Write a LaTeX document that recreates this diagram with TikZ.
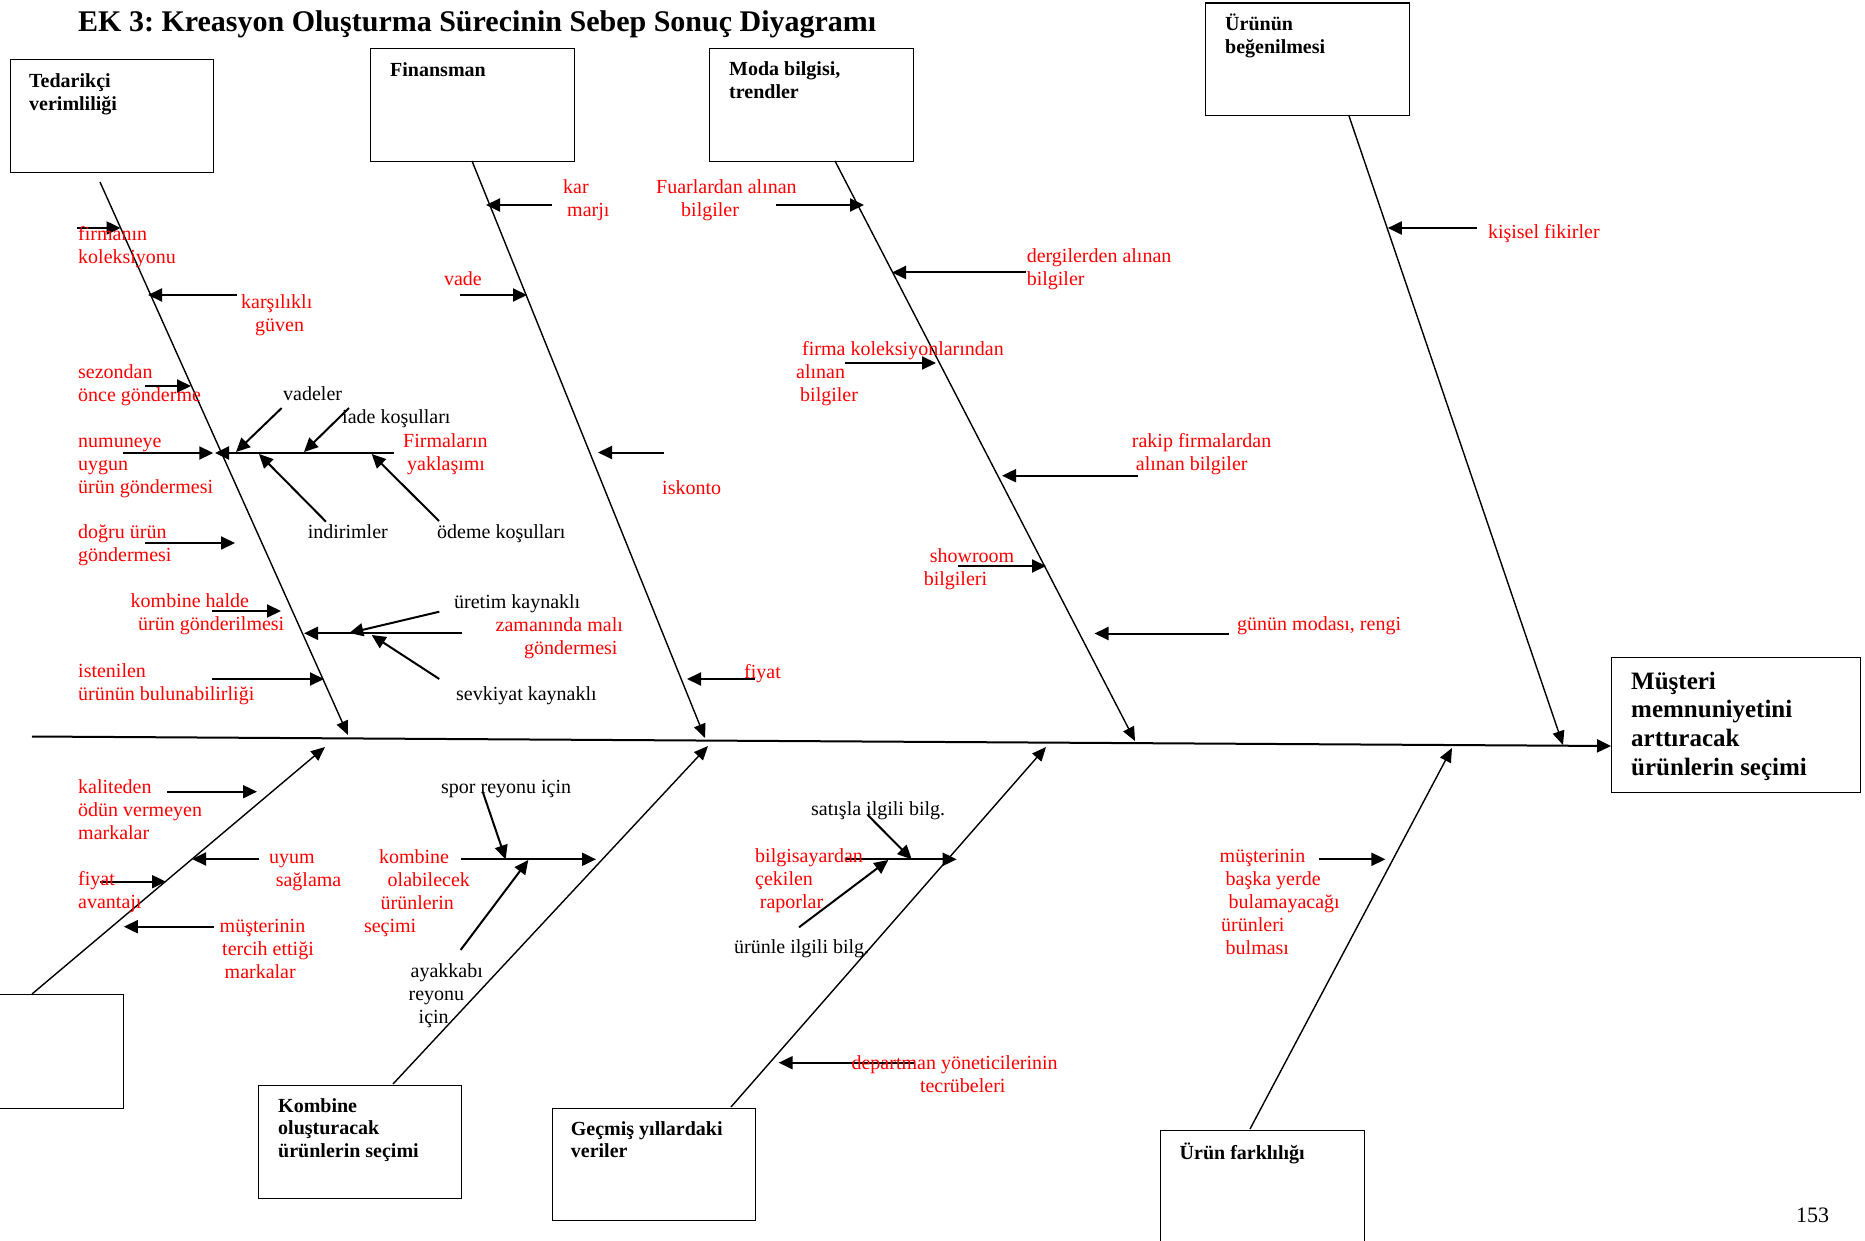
\documentclass[tikz,border=0pt]{standalone}
\usepackage{fontspec}
\setmainfont{Liberation Serif}
\usetikzlibrary{arrows.meta}
\frenchspacing

% multi-line label whose anchor is the baseline of its first line
\newcommand\ml[1]{\vtop{\halign{##\hfil\cr#1\crcr}}}
% small cause arrow between two named coordinates
\newcommand\twig[3]{\coordinate (#1a) at (#2); \coordinate (#1b) at (#3); \draw[twigline] (#1a) -- (#1b);}
% main cause bone between two named coordinates
\newcommand\bone[3]{\coordinate (#1s) at (#2); \coordinate (#1e) at (#3); \draw[boneline] (#1s) -- (#1e);}

\tikzset{
  frame/.style={draw, line width=1.4pt, inner sep=0pt, anchor=north west},
  boneline/.style={line width=1.4pt, -{Triangle[length=14pt,width=12pt]}},
  spineline/.style={line width=2pt, -{Triangle[length=14pt,width=13pt]}},
  twigline/.style={line width=2pt, -{Triangle[length=14pt,width=13pt]}},
  txt/.style={inner sep=0pt, anchor=base west, font=\fontsize{20}{23}\selectfont},
  redtxt/.style={txt, text=red},
  head/.style={inner sep=0pt, anchor=base west, font=\fontsize{20}{22.8}\selectfont\bfseries},
}

\begin{document}
\begin{tikzpicture}[x=1pt, y=-1pt]
\path[fill=white, use as bounding box] (0,0) rectangle (1865,1241);

% title
\node[inner sep=0pt, anchor=base west, font=\fontsize{30}{34}\selectfont\bfseries] (title) at (78,31.7)
  {EK 3: Kreasyon Oluşturma Sürecinin Sebep Sonuç Diyagramı};

% category boxes
\node[frame, minimum width=203pt, minimum height=113pt] (ted) at (10,59) {};
\node[frame, minimum width=204pt, minimum height=113pt] (fin) at (370,48) {};
\node[frame, minimum width=204pt, minimum height=113pt] (moda) at (709,48) {};
\node[frame, minimum width=204pt, minimum height=112.5pt] (begeni) at (1205,2.5) {};
\node[frame, minimum width=249pt, minimum height=135pt] (mus) at (1611,657) {};
\node[frame, minimum width=133pt, minimum height=114pt] (bos) at (-10,994) {};
\node[frame, minimum width=203pt, minimum height=113pt] (komb) at (258,1085) {};
\node[frame, minimum width=202.5pt, minimum height=112pt] (gecmis) at (552,1108) {};
\node[frame, minimum width=204pt, minimum height=140pt] (fark) at (1160,1130) {};

% box headings
\node[head] (h-ted) at (29,88) {\ml{Tedarikçi\cr verimliliği}};
\node[head] (h-fin) at (390,77) {Finansman};
\node[head] (h-moda) at (729,76) {\ml{Moda bilgisi,\cr trendler}};
\node[head] (h-begeni) at (1225,31) {\ml{Ürünün\cr beğenilmesi}};
\node[inner sep=0pt, anchor=base west, font=\fontsize{25}{28.7}\selectfont\bfseries] (h-mus) at (1631,689)
  {\ml{Müşteri\cr memnuniyetini\cr arttıracak\cr ürünlerin seçimi}};
\node[head] (h-komb) at (278,1112) {\ml{Kombine\cr oluşturacak\cr ürünlerin seçimi}};
\node[head] (h-gecmis) at (570.7,1135) {\ml{Geçmiş yıllardaki\cr veriler}};
\node[head] (h-fark) at (1179.5,1159) {Ürün farklılığı};

% spine
\coordinate (sp0) at (32,736.5);
\coordinate (sp1) at (1611,746);
\draw[spineline] (sp0) -- (sp1);

% bones
\bone{tb}{100,182}{348,735}
\bone{fb}{472,161}{705,738}
\bone{mb}{835,161}{1135,741}
\bone{ub}{1349,116}{1563,745}
\bone{bb}{32,994}{325,747}
\bone{kb}{393,1084}{708,746}
\bone{gb}{731,1107}{1046,747}
\bone{rb}{1250,1129}{1452,748}

% Tedarikçi verimliliği
\twig{t1}{77,228}{120.6,228}
\twig{t2}{236.5,295}{148,295}
\twig{t3}{145,386}{191,386}
\twig{t4}{122.6,453}{213.3,453}
\twig{t5}{394,453}{215,453}
\twig{t6}{281.7,408}{236,452}
\twig{t7}{349,408}{304,452}
\twig{t8}{326,521.7}{259,454}
\twig{t9}{439,521}{371.7,454}
\twig{t10}{145,543}{235,543}
\twig{t11}{212,611}{281,611}
\twig{t12}{461.7,633.3}{304,633.3}
\twig{t13}{439.3,611.7}{349.3,633}
\twig{t14}{439.3,679}{371.7,635}
\twig{t15}{212,679}{324,679}

\node[redtxt] (l-t1) at (78,240.7) {\ml{firmanın\cr koleksiyonu}};
\node[redtxt] (l-t2) at (241,308) {\ml{karşılıklı\cr\hspace*{14pt}güven}};
\node[redtxt] (l-t3) at (78,378) {\ml{sezondan\cr önce gönderme}};
\node[redtxt] (l-t4) at (78,447.7) {\ml{numuneye\cr uygun\cr ürün göndermesi}};
\node[redtxt] (l-t5) at (403,447.7) {\ml{Firmaların\cr\hspace*{4pt}yaklaşımı}};
\node[txt] (l-t6) at (283,400) {vadeler};
\node[txt] (l-t7) at (342,423) {iade koşulları};
\node[txt] (l-t8) at (307.6,538) {indirimler};
\node[txt] (l-t9) at (437,538) {ödeme koşulları};
\node[redtxt] (l-t10) at (78,538) {\ml{doğru ürün\cr göndermesi}};
\node[redtxt] (l-t11) at (130.5,607) {\ml{kombine halde\cr\hspace*{7.5pt}ürün gönderilmesi}};
\node[redtxt] (l-t12) at (495.5,631.7) {\ml{zamanında malı\cr\hspace*{28.5pt}göndermesi}};
\node[txt] (l-t13) at (454,608) {üretim kaynaklı};
\node[txt] (l-t14) at (456,700) {sevkiyat kaynaklı};
\node[redtxt] (l-t15) at (78,677.7) {\ml{istenilen\cr ürünün bulunabilirliği}};

% Finansman
\twig{f1}{552,205}{486,205}
\twig{f2}{460,295}{527,295}
\twig{f3}{664,452.5}{598,452.5}
\twig{f4}{755,679}{687,679}

\node[redtxt] (l-f1) at (563,194) {\ml{kar\cr\hspace*{4pt}marjı}};
\node[redtxt] (l-f2) at (443.8,285.7) {vade};
\node[redtxt] (l-f3) at (662,494) {iskonto};
\node[redtxt] (l-f4) at (744,678) {fiyat};

% Moda bilgisi, trendler
\twig{m1}{776,205}{864,205}
\twig{m2}{1025.6,272.5}{892,272.5}
\twig{m3}{844.5,363}{936,363}
\twig{m4}{1138,475.7}{1002,475.7}
\twig{m5}{957.8,566}{1046,566}
\twig{m6}{1228.7,633.5}{1094.5,633.5}

\node[redtxt] (l-m1) at (656,194) {\ml{Fuarlardan alınan\cr\hspace*{25pt}bilgiler}};
\node[redtxt] (l-m2) at (1026.6,263) {\ml{dergilerden alınan\cr bilgiler}};
\node[redtxt] (l-m3) at (796,355) {\ml{\hspace*{6pt}firma koleksiyonlarından\cr alınan\cr\hspace*{4pt}bilgiler}};
\node[redtxt] (l-m4) at (1131.7,447.7) {\ml{rakip firmalardan\cr\hspace*{4pt}alınan bilgiler}};
\node[redtxt] (l-m5) at (923.6,562.6) {\ml{\hspace*{6pt}showroom\cr bilgileri}};
\node[redtxt] (l-m6) at (1237,630) {günün modası, rengi};

% Ürünün beğenilmesi
\twig{u1}{1476.6,228}{1387.8,228}
\node[redtxt] (l-u1) at (1487.8,238.8) {kişisel fikirler};

% lower left bone
\twig{b1}{167,791.7}{257,791.7}
\twig{b2}{259,859}{192,859}
\twig{b3}{100,881.7}{166,881.7}
\twig{b4}{213.5,926.7}{123.8,926.7}

\node[redtxt] (l-b1) at (78,793.3) {\ml{kaliteden\cr ödün vermeyen\cr markalar}};
\node[redtxt] (l-b2) at (269,863.3) {\ml{uyum\cr\hspace*{6.6pt}sağlama}};
\node[redtxt] (l-b3) at (78,885.7) {\ml{fiyat\cr avantajı}};
\node[redtxt] (l-b4) at (219.5,932.3) {\ml{müşterinin\cr\hspace*{2.5pt}tercih ettiği\cr\hspace*{5pt}markalar}};

% Kombine oluşturacak ürünlerin seçimi
\twig{k1}{460.6,859.3}{596,859.3}
\twig{k2}{482.7,791.7}{505.7,859.3}
\twig{k3}{460.6,950}{528.3,860}

\node[redtxt] (l-k1) at (363.8,863.3) {\ml{\hspace*{15pt}kombine\cr\hspace*{23.7pt}olabilecek\cr\hspace*{16.6pt}ürünlerin\cr seçimi}};
\node[txt] (l-k2) at (441,793.3) {spor reyonu için};
\node[txt] (l-k3) at (408.5,977.7) {\ml{\hspace*{2pt}ayakkabı\cr reyonu\cr\hspace*{10pt}için}};

% Geçmiş yıllardaki veriler
\twig{g1}{845,859.3}{956.7,859.3}
\twig{g2}{867.7,815}{911.7,859.3}
\twig{g3}{799,927.3}{888.3,860}
\twig{g4}{914,1062.7}{778.7,1062.7}

\node[redtxt] (l-g1) at (755,862.7) {\ml{bilgisayardan\cr çekilen\cr\hspace*{4.7pt}raporlar}};
\node[txt] (l-g2) at (811,815) {satışla ilgili bilg.};
\node[txt] (l-g3) at (734,953.3) {ürünle ilgili bilg.};
\node[redtxt] (l-g4) at (851.4,1069.3) {\ml{departman yöneticilerinin\cr\hspace*{68.4pt}tecrübeleri}};

% Ürün farklılığı
\twig{r1}{1318.5,859.3}{1385.4,859.3}
\node[redtxt] (l-r1) at (1219.5,862.7) {\ml{müşterinin\cr\hspace*{6pt}başka yerde\cr\hspace*{9pt}bulamayacağı\cr\hspace*{1.5pt}ürünleri\cr\hspace*{6pt}bulması}};

% page number
\node[inner sep=0pt, anchor=base west, font=\fontsize{22}{26}\selectfont] (page) at (1796,1222) {153};
\end{tikzpicture}
\end{document}
